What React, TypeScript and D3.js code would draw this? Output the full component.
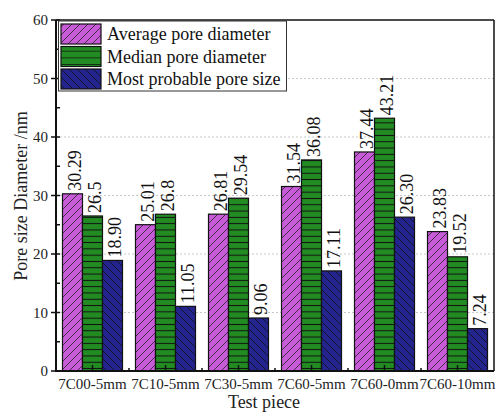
import React from "react";
import * as d3 from "d3";

const categories = ["7C00-5mm", "7C10-5mm", "7C30-5mm", "7C60-5mm", "7C60-0mm", "7C60-10mm"];
const seriesNames = ["Average pore diameter", "Median pore diameter", "Most probable pore size"];
const averageValues = [30.29, 25.01, 26.81, 31.54, 37.44, 23.83];
const medianValues = [26.5, 26.8, 29.54, 36.08, 43.21, 19.52];
const probableValues = [18.9, 11.05, 9.06, 17.11, 26.3, 7.24];
const averageLabels = ["30.29", "25.01", "26.81", "31.54", "37.44", "23.83"];
const medianLabels = ["26.5", "26.8", "29.54", "36.08", "43.21", "19.52"];
const probableLabels = ["18.90", "11.05", "9.06", "17.11", "26.30", "7.24"];
const yTicks = [0, 10, 20, 30, 40, 50, 60];
const yMinorTicks = [5, 15, 25, 35, 45, 55];
const gridTicks = [10, 20, 30, 40, 50];

const W = 496;
const H = 412;
const M = { left: 56, right: 2, top: 20, bottom: 41 };
const FONT = "Times New Roman, Liberation Serif, Tinos, DejaVu Serif, Noto Serif, serif";
const fills = ["#c85cd8", "#228b22", "#24248f"];
const patternIds = ["patAvg", "patMed", "patProb"];

export default function App() {
  const x0 = d3
    .scaleBand<string>()
    .domain(categories)
    .range([M.left, W - M.right])
    .paddingInner(13 / 73)
    .paddingOuter(0.089);
  const x1 = d3.scaleBand<string>().domain(seriesNames).range([0, x0.bandwidth()]);
  const y = d3.scaleLinear().domain([0, 60]).range([H - M.bottom, M.top]);

  const values = [averageValues, medianValues, probableValues];
  const labels = [averageLabels, medianLabels, probableLabels];

  const plotL = M.left;
  const plotR = W - M.right;
  const plotB = H - M.bottom;
  const plotT = M.top;
  const step = x0.step();

  return (
    <svg width={W} height={H} style={{ position: "absolute", left: 0, top: 0, background: "#fff" }} fontFamily={FONT}>
      <defs>
        <pattern id="patAvg" patternUnits="userSpaceOnUse" width="8" height="8">
          <rect width="8" height="8" fill={fills[0]} />
          <path d="M-2,2 L2,-2 M0,8 L8,0 M6,10 L10,6" stroke="#222" strokeWidth="0.8" />
        </pattern>
        <pattern id="patMed" patternUnits="userSpaceOnUse" width="8" height="6.3">
          <rect width="8" height="6.3" fill={fills[1]} />
          <path d="M0,3.15 L8,3.15" stroke="#111" strokeWidth="1" />
        </pattern>
        <pattern id="patProb" patternUnits="userSpaceOnUse" width="8" height="8">
          <rect width="8" height="8" fill={fills[2]} />
          <path d="M-2,6 L2,10 M0,0 L8,8 M6,-2 L10,2" stroke="#111" strokeWidth="0.8" />
        </pattern>
        <pattern id="patMedLeg" patternUnits="userSpaceOnUse" x="0" y="24" width="40" height="6.67">
          <rect width="40" height="6.67" fill={fills[1]} />
          <path d="M0,0 L40,0" stroke="#111" strokeWidth="1.2" />
        </pattern>
      </defs>

      {/* grid */}
      {gridTicks.map((t) => (
        <line key={"g" + t} x1={plotL} x2={plotR} y1={y(t)} y2={y(t)} stroke="#c8c8c8" strokeWidth={1} strokeDasharray="2,2" />
      ))}

      {/* bars */}
      {categories.map((c, i) => (
        <g key={c}>
          {seriesNames.map((s, k) => {
            const v = values[k][i];
            const bx = (x0(c) as number) + (x1(s) as number);
            const bw = x1.bandwidth();
            return (
              <g key={s}>
                <rect x={bx} y={y(v)} width={bw} height={plotB - y(v)} fill={`url(#${patternIds[k]})`} stroke="#111" strokeWidth={1.2} />
                <text
                  transform={`translate(${bx + bw / 2 + 8.5},${y(v) - 3}) rotate(-90)`}
                  fontFamily={FONT}
                  fontSize={18}
                  fill="#111"
                >
                  {labels[k][i]}
                </text>
              </g>
            );
          })}
        </g>
      ))}

      {/* frame */}
      <line x1={plotL} x2={plotR} y1={plotT} y2={plotT} stroke="#111" strokeWidth={1.5} />
      <line x1={plotR} x2={plotR} y1={plotT} y2={plotB} stroke="#111" strokeWidth={1.5} />
      <line x1={plotL} x2={plotL} y1={plotT} y2={plotB + 1} stroke="#111" strokeWidth={2} />
      <line x1={plotL - 1} x2={plotR} y1={plotB} y2={plotB} stroke="#111" strokeWidth={2} />

      {/* y ticks */}
      {yTicks.map((t) => (
        <g key={"y" + t}>
          <line x1={plotL - 5} x2={plotL + 4} y1={y(t)} y2={y(t)} stroke="#111" strokeWidth={1.5} />
          <text x={plotL - 8} y={y(t)} dy="0.35em" textAnchor="end" fontFamily={FONT} fontSize={15} fill="#222">
            {t}
          </text>
        </g>
      ))}
      {yMinorTicks.map((t) => (
        <line key={"ym" + t} x1={plotL} x2={plotL + 4} y1={y(t)} y2={y(t)} stroke="#111" strokeWidth={1.5} />
      ))}

      {/* x ticks */}
      {categories.map((c, i) => {
        const cx = (x0(c) as number) + x0.bandwidth() / 2;
        return (
          <g key={"x" + c}>
            <line x1={cx} x2={cx} y1={plotB} y2={plotB - 6} stroke="#111" strokeWidth={1.5} />
            {i > 0 && (
              <line x1={cx - step / 2} x2={cx - step / 2} y1={plotB} y2={plotB - 3} stroke="#111" strokeWidth={1.5} />
            )}
            <text x={cx} y={plotB + 17.5} textAnchor="middle" fontFamily={FONT} fontSize={15} fill="#222">
              {c}
            </text>
          </g>
        );
      })}

      {/* axis titles */}
      <text x={264} y={408} textAnchor="middle" fontFamily={FONT} fontSize={18} fill="#222">
        Test piece
      </text>
      <text transform="translate(27,196) rotate(-90)" textAnchor="middle" fontFamily={FONT} fontSize={18} fill="#222">
        Pore size Diameter /nm
      </text>

      {/* legend */}
      <rect x={58.5} y={21} width={228} height={70} fill="#fff" stroke="#333" strokeWidth={1} />
      {seriesNames.map((s, k) => {
        const ry = 24 + k * 22.5;
        return (
          <g key={"l" + s}>
            <rect
              x={61}
              y={ry}
              width={40}
              height={20}
              fill={k === 1 ? "url(#patMedLeg)" : `url(#${patternIds[k]})`}
              stroke="#111"
              strokeWidth={1.2}
            />
            <text x={107} y={ry + 16} fontFamily={FONT} fontSize={18} fill="#111">
              {s}
            </text>
          </g>
        );
      })}
    </svg>
  );
}
